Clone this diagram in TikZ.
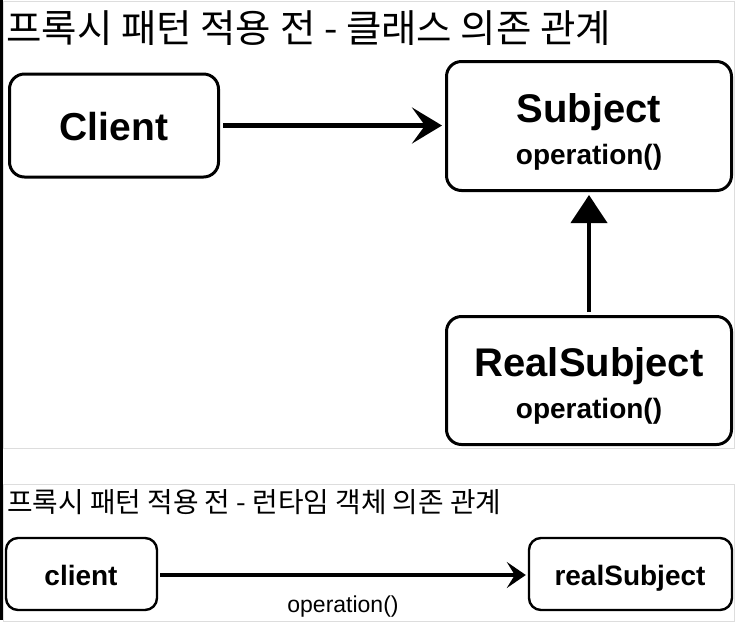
\documentclass[tikz,border=0pt]{standalone}
\usepackage{fontspec}
\setmainfont{Liberation Sans}
\newfontfamily\kr{Noto Sans CJK KR}
\usetikzlibrary{arrows.meta,calc}
\definecolor{framegray}{HTML}{DDDDDD}
\tikzset{
  bigbox/.style={draw=black, line width=3pt, rounded corners=15pt, fill=white},
  smallbox/.style={draw=black, line width=2.4pt, rounded corners=12pt, fill=white},
  frame/.style={draw=framegray, line width=1pt},
  lbl/.style={inner sep=0pt, font=\bfseries},
}
\begin{document}
\begin{tikzpicture}[x=1pt,y=-1pt]
\useasboundingbox (0,0) rectangle (741,633);
\fill[black] (0,0) rectangle (2.5,620);
\draw[frame] (3.5,1.5) rectangle (734.5,448);
\draw[frame] (3.5,484) rectangle (734.5,621);

% titles
\node[anchor=west, inner sep=0pt, font=\kr\fontsize{38.5}{44}\selectfont] (t1) at (6,28) {프록시 패턴 적용 전 - 클래스 의존 관계};
\node[anchor=west, inner sep=0pt, font=\kr\fontsize{27.8}{32}\selectfont] (t2) at (7,502) {프록시 패턴 적용 전 - 런타임 객체 의존 관계};

% top diagram
\node[bigbox, minimum width=209pt, minimum height=103pt] (client) at (114,125.5) {};
\node[lbl, font=\bfseries\fontsize{39}{42}\selectfont] (clientT) at (114,127) {Client};

\node[bigbox, minimum width=285pt, minimum height=129pt] (subject) at (589,126) {};
\node[lbl, font=\bfseries\fontsize{40}{44}\selectfont, anchor=base] (subjectT) at (589,122) {Subject};
\node[lbl, font=\bfseries\fontsize{28}{32}\selectfont, anchor=base] (subjectOp) at (589,164) {operation()};

\node[bigbox, minimum width=285pt, minimum height=128pt] (real) at (589,380.5) {};
\node[lbl, font=\bfseries\fontsize{40}{44}\selectfont, anchor=base] (realT) at (589,376) {RealSubject};
\node[lbl, font=\bfseries\fontsize{28}{32}\selectfont, anchor=base] (realOp) at (589,418) {operation()};

\draw[line width=5pt, shorten <=3pt, shorten >=3pt, -{Stealth[length=30pt, width=36pt, inset=13pt]}] (client.east) -- (client.east -| subject.west);
\draw[line width=4pt, shorten <=3pt, shorten >=3pt, -{Triangle[length=28pt, width=36pt]}] (real.north) -- (subject.south);

% bottom diagram
\node[smallbox, minimum width=151pt, minimum height=72pt] (c2) at (81.5,574) {};
\node[lbl, font=\bfseries\fontsize{28}{30}\selectfont, anchor=base] (c2T) at (81,585) {client};
\node[smallbox, minimum width=203pt, minimum height=72pt] (r2) at (630.5,574) {};
\node[lbl, font=\bfseries\fontsize{28}{30}\selectfont, anchor=base] (r2T) at (630,585) {realSubject};

\draw[line width=3.2pt, shorten <=2pt, shorten >=2pt, -{Stealth[length=19pt, width=26pt, inset=8pt]}] ($(c2.east)+(0,1)$) -- node[below=19pt, font=\fontsize{23}{26}\selectfont, inner sep=0pt] (opl) {operation()} ($(r2.west)+(0,1)$);
\end{tikzpicture}
\end{document}
